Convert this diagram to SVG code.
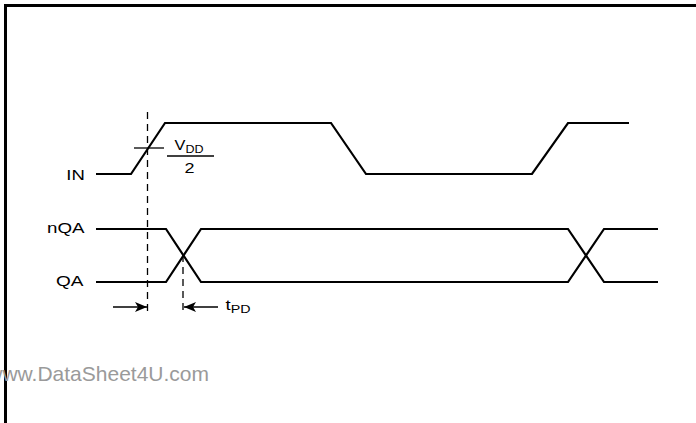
<svg xmlns="http://www.w3.org/2000/svg" width="696" height="423" viewBox="0 0 696 423">
<style>
.sig{fill:none;stroke:#000;stroke-width:2.2;stroke-linejoin:miter}
.dash{fill:none;stroke:#000;stroke-width:1.3;stroke-dasharray:7,5}
.thin{fill:none;stroke:#000;stroke-width:1.3}
.lbl{font-family:"Liberation Sans",Arial,sans-serif;font-size:15px;fill:#000}
.sub{font-size:11.5px}
</style>
<defs>
<marker id="ah" viewBox="0 0 12 10" refX="12" refY="5" markerWidth="12" markerHeight="10" markerUnits="userSpaceOnUse" orient="auto">
<path d="M0,0 L12,5 L0,10 L3,5 Z" fill="#000"/>
</marker>
</defs>
<path d="M5.5,423 V5.5 H696" fill="none" stroke="#000" stroke-width="3"/>
<text x="209" y="381" text-anchor="end" font-family="'Liberation Sans',Arial,sans-serif" font-size="21" fill="#9a9a9a">www.DataSheet4U.com</text>
<g id="IN">
<text class="lbl" x="66.3" y="180" textLength="18.5" lengthAdjust="spacingAndGlyphs">IN</text>
<path class="sig" d="M96,174 H131 L165,123 H331 L366,174 H532 L568,123 H629"/>
</g>
<g id="nQA">
<text class="lbl" x="47" y="233" textLength="37.5" lengthAdjust="spacingAndGlyphs">nQA</text>
<path class="sig" d="M96,229 H166 L201,282 H568 L604,229 H658"/>
</g>
<g id="QA">
<text class="lbl" x="56" y="286" textLength="27.5" lengthAdjust="spacingAndGlyphs">QA</text>
<path class="sig" d="M96,282 H166 L201,229 H568 L604,282 H658"/>
</g>
<g id="vdd">
<text class="lbl" x="174.5" y="150" textLength="29" lengthAdjust="spacingAndGlyphs">V<tspan class="sub" dy="3">DD</tspan></text>
<line class="thin" x1="167" y1="156" x2="214" y2="156"/>
<text class="lbl" x="184.5" y="173" textLength="10" lengthAdjust="spacingAndGlyphs">2</text>
</g>
<g id="tpd">
<text class="lbl" x="225.5" y="310" textLength="25" lengthAdjust="spacingAndGlyphs">t<tspan class="sub" dy="3">PD</tspan></text>
</g>
<g id="connectors">
<line class="dash" x1="147.5" y1="112" x2="147.5" y2="314"/>
<line class="dash" x1="183" y1="255" x2="183" y2="314"/>
<line class="thin" x1="134" y1="148" x2="164" y2="148"/>
<line class="thin" x1="113" y1="307" x2="147" y2="307" marker-end="url(#ah)"/>
<line class="thin" x1="218" y1="307" x2="184" y2="307" marker-end="url(#ah)"/>
</g>
</svg>
